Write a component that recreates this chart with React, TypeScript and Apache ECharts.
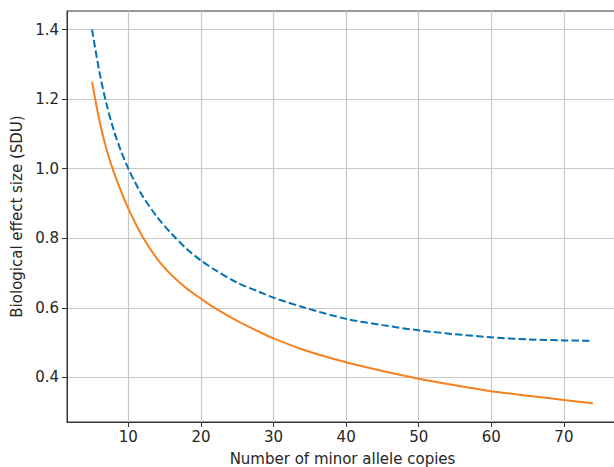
import React, { useEffect, useRef } from "react";
import * as echarts from "echarts";

const xs = [5, 6, 7, 8, 9, 10, 11, 12, 14, 16, 18, 20, 22, 25, 28, 30, 34, 40, 45, 50, 55, 60, 65, 70, 74];
const blueVals = [1.4, 1.28, 1.185, 1.11, 1.05, 1.0, 0.958, 0.92, 0.86, 0.812, 0.77, 0.736, 0.708, 0.672, 0.646, 0.629, 0.602, 0.568, 0.55, 0.535, 0.524, 0.515, 0.509, 0.506, 0.505];
const orangeVals = [1.25, 1.14, 1.055, 0.99, 0.935, 0.885, 0.842, 0.803, 0.74, 0.693, 0.656, 0.626, 0.598, 0.562, 0.531, 0.512, 0.48, 0.443, 0.418, 0.396, 0.377, 0.36, 0.347, 0.335, 0.325];
const xTicks = [10, 20, 30, 40, 50, 60, 70];
const yTicks = [0.4, 0.6, 0.8, 1.0, 1.2, 1.4];

export default function App() {
  const ref = useRef<HTMLDivElement>(null);
  useEffect(() => {
    if (!ref.current) return;
    const chart = echarts.init(ref.current, null, { renderer: "svg" });
    const font = "DejaVu Sans";
    chart.setOption({
      animation: false,
      backgroundColor: "#ffffff",
      grid: {
        left: 67,
        top: 11,
        bottom: 45,
        right: -4,
        containLabel: false,
        outerBoundsMode: "none",
        show: true,
        borderColor: "#333333",
        borderWidth: 1,
        backgroundColor: "transparent",
      },
      xAxis: {
        type: "value",
        min: 1.55,
        max: 77.45,
        name: "Number of minor allele copies",
        nameLocation: "middle",
        nameGap: 29,
        nameTextStyle: { fontFamily: font, fontSize: 15, color: "#262626" },
        axisLine: { show: true, lineStyle: { color: "#333", width: 1 } },
        axisTick: { show: true, length: 5, lineStyle: { color: "#333", width: 1 }, customValues: xTicks },
        axisLabel: { fontFamily: font, fontSize: 15, color: "#262626", margin: 7, customValues: xTicks },
        splitLine: { show: true, lineStyle: { color: "#c8c8c8", width: 1.2 } },
      },
      yAxis: {
        type: "value",
        min: 0.2714,
        max: 1.4535,
        name: "Biological effect size (SDU)",
        nameLocation: "middle",
        nameGap: 43,
        nameTextStyle: { fontFamily: font, fontSize: 15, color: "#262626" },
        axisLine: { show: true, lineStyle: { color: "#333", width: 1 } },
        axisTick: { show: true, length: 5, lineStyle: { color: "#333", width: 1 }, customValues: yTicks },
        axisLabel: {
          fontFamily: font,
          fontSize: 15,
          color: "#262626",
          margin: 8,
          customValues: yTicks,
          formatter: (v: number) => v.toFixed(1),
        },
        splitLine: { show: true, lineStyle: { color: "#c8c8c8", width: 1.2 } },
      },
      series: [
        {
          type: "line",
          data: xs.map((x, i) => [x, blueVals[i]]),
          showSymbol: false,
          smooth: 0.3,
          lineStyle: { color: "#0173b2", width: 2, type: [7.4, 3.2] },
          itemStyle: { color: "#0173b2" },
        },
        {
          type: "line",
          data: xs.map((x, i) => [x, orangeVals[i]]),
          showSymbol: false,
          smooth: 0.3,
          lineStyle: { color: "#f5811f", width: 2 },
          itemStyle: { color: "#f5811f" },
        },
      ],
    });
    return () => chart.dispose();
  }, []);
  return <div ref={ref} style={{ width: 614, height: 467, position: "absolute", left: 0, top: 0 }} />;
}
